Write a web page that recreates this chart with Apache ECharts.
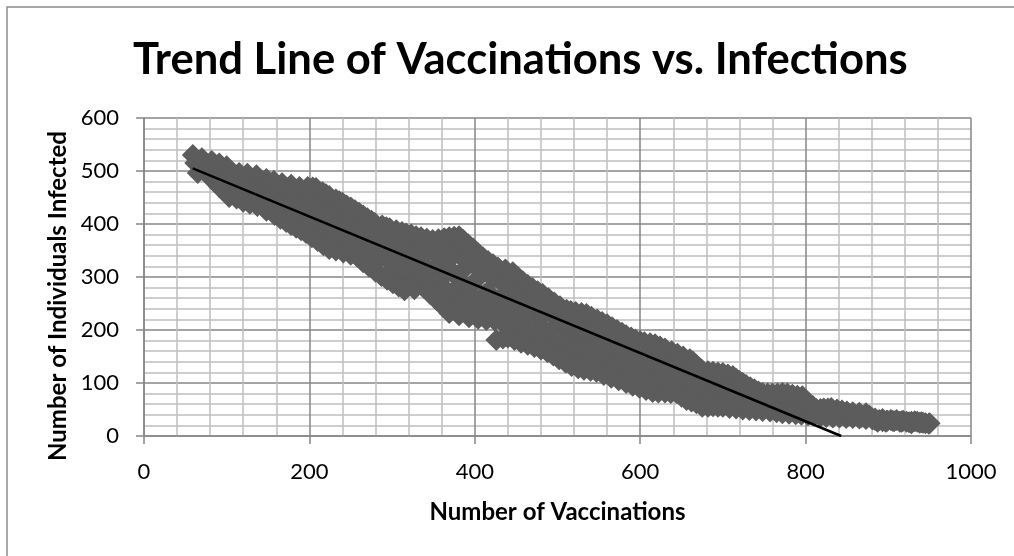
<!DOCTYPE html>
<html>
<head>
<meta charset="utf-8">
<title>Trend Line of Vaccinations vs. Infections</title>
<script src="https://cdn.jsdelivr.net/npm/echarts@6/dist/echarts.min.js"></script>
<style>
    html, body { margin: 0; padding: 0; background: #fff; }
    #chart { width: 1014px; height: 556px; }
</style>
</head>
<body>
<div id="chart"></div>
<script>
// points, upper edge of the cloud first, then lower edge, then the inside
var upperEdge = [[59,530],[70,524],[82,519],[91,514],[100,509],[115,496],[125,495],[136,492],[148,485],[157,481],[167,477],[178,474],[188,470],[198,470],[208,468],[216,460],[224,453],[232,446],[240,440],[250,431],[260,421],[270,411],[279,402],[288,397],[297,392],[312,385],[323,380],[335,375],[349,370],[369,375],[381,377],[392,362],[404,345],[416,330],[428,318],[446,309],[458,292],[470,279],[482,268],[496,252],[511,238],[522,234],[535,230],[548,220],[560,211],[572,200],[583,190],[594,182],[605,177],[618,173],[630,165],[645,155],[660,145],[668,134],[675,124],[688,121],[700,119],[712,113],[720,104],[728,96],[738,88],[748,81],[760,80],[772,81],[784,78],[796,75],[804,62],[813,51],[822,52],[831,53],[844,48],[857,45],[873,43],[880,34],[887,27],[899,29],[910,30],[922,27],[935,27],[949,23]];
var upperEdgeSteps = [[204,469],[220,456],[236,443],[245,435],[255,426],[265,416],[275,406],[293,394],[305,388],[317,382],[329,377],[342,372],[356,371],[363,373],[375,376],[386,370],[398,354],[410,337],[422,324],[437,314],[452,300],[464,285],[476,273],[489,260],[503,245],[516,236],[529,232],[541,225],[554,215],[566,205],[578,195],[589,186],[600,179],[612,175],[624,169],[638,160],[652,150],[664,140],[672,128],[682,122],[694,120],[706,116],[716,108],[724,100],[733,92],[743,84],[754,80],[766,80],[778,80],[790,76],[800,68],[809,56],[818,51],[827,52],[838,50],[850,46],[865,44],[877,38],[884,30],[893,28],[905,29],[916,28],[928,27],[942,25]];
var lowerEdge = [[65,496],[79,489],[91,470],[103,451],[120,442],[137,434],[158,417],[172,404],[184,393],[196,383],[210,368],[224,353],[241,346],[258,338],[272,320],[287,302],[301,288],[315,275],[327,277],[339,279],[354,256],[369,232],[381,228],[393,224],[404,221],[414,219],[426,181],[440,186],[456,176],[472,168],[488,158],[502,145],[517,132],[532,125],[547,121],[565,110],[583,100],[599,91],[615,83],[630,82],[644,81],[656,68],[668,62],[675,55],[688,56],[700,55],[716,52],[732,49],[748,47],[765,45],[780,42],[795,40],[810,38],[825,36],[841,35],[857,34],[873,32],[889,30],[907,28],[925,26],[950,24]];
var lowerEdgeSteps = [[112,448],[128,438],[148,425],[165,410],[178,398],[190,388],[203,375],[217,360],[232,350],[250,342],[265,328],[280,310],[294,295],[308,282],[346,268],[362,244],[434,184],[448,181],[464,172],[480,163],[495,152],[510,138],[525,128],[540,123],[556,115],[574,105],[591,95],[607,87],[622,82],[637,81],[650,74],[662,65],[682,55],[694,55],[708,53],[724,50],[740,48],[757,46],[772,43],[788,41],[803,39],[818,37],[833,35],[849,34],[865,33],[881,31],[898,29],[916,27],[938,25]];
var insideUpper = [[110,485],[128,474],[146,465],[164,455],[180,447],[198,440],[214,429],[230,418],[246,406],[262,393],[278,380],[294,368],[310,358],[326,350],[342,345],[358,342],[374,340],[390,328],[406,312],[422,296],[438,282],[454,268],[470,252],[486,238],[502,222],[518,208],[534,198],[550,188],[566,174],[582,162],[598,152],[614,143],[630,134],[646,124],[662,110],[678,100],[694,92],[710,84],[726,74],[742,66],[758,62],[774,60],[790,57],[806,46]];
var insideMiddle = [[150,448],[168,436],[186,424],[204,411],[220,398],[236,382],[252,368],[268,352],[284,338],[300,324],[316,314],[332,312],[348,306],[364,304],[380,296],[396,284],[412,268],[428,254],[444,240],[460,226],[476,210],[492,196],[508,180],[524,170],[540,160],[556,150],[572,138],[588,126],[604,118],[620,110],[636,104],[652,94],[668,84],[684,76],[700,72],[716,66]];
var insideLower = [[320,300],[336,292],[352,276],[368,266],[384,258],[400,246],[416,236],[432,226],[448,212],[464,198],[480,186],[496,174],[512,158],[528,146],[544,138],[560,130],[576,120],[592,110]];
var fillNearTop = [[120,473],[136,466],[152,461],[170,452],[186,450],[204,446],[220,434],[236,420],[252,404],[268,388],[284,374],[300,368],[316,362],[332,352],[348,350],[364,352],[380,352],[396,334],[412,312],[428,296],[444,288],[460,268],[476,252],[492,234],[508,218],[524,214],[540,204],[556,192],[572,178],[588,166],[604,156],[620,150],[636,140],[652,126],[668,112],[684,100],[700,98],[716,88],[732,70],[748,60],[764,60],[780,60],[796,54]];
var fillMiddle = [[128,458],[144,450],[160,442],[176,432],[192,420],[208,408],[224,400],[240,390],[256,376],[272,360],[288,346],[304,336],[320,330],[336,326],[352,318],[368,318],[384,310],[400,292],[416,272],[432,262],[448,250],[464,236],[480,222],[496,206],[512,194],[528,184],[544,176],[560,164],[576,150],[592,142],[608,132],[624,124],[640,118],[656,104],[672,92],[688,88],[704,86],[720,76],[736,66],[752,62],[768,58]];
var fillLower = [[168,428],[184,414],[200,400],[216,388],[232,370],[248,360],[264,346],[280,328],[296,308],[312,300],[328,296],[344,288],[360,284],[376,276],[392,268],[408,258],[424,244],[440,226],[456,212],[472,198],[488,182],[504,168],[520,158],[536,150],[552,140],[568,128],[584,118],[600,108],[616,100],[632,98],[648,90],[664,78],[680,70],[696,68],[712,62],[728,60],[744,58],[760,56],[776,54],[792,52],[808,50]];
var fillNearBottom = [[376,250],[392,242],[408,236],[424,218],[440,204],[456,192],[472,182],[488,170],[504,156],[520,146],[536,136],[552,128],[568,118],[584,108],[600,98],[616,92]];
var headPoints = [[62,515],[66,510],[74,508],[86,500],[94,498],[98,480],[106,490],[112,470],[118,458],[126,480],[130,450],[142,476],[146,440],[152,470],[156,432],[162,465],[168,445],[174,460],[178,415],[182,458],[190,400],[196,455],[200,395],[206,385],[212,450],[218,372],[226,368]];
var tailPoints = [[640,145],[654,135],[668,122],[684,112],[692,108],[704,108],[726,85],[742,75],[754,54],[756,70],[770,68],[785,62],[790,66],[800,60],[800,55],[806,52],[816,42],[818,45],[826,44],[836,42],[838,46],[846,40],[850,43],[852,38],[862,38],[864,41],[868,36],[878,37],[884,33],[893,32],[897,27],[903,30],[914,27],[918,29],[928,24],[932,28],[940,26],[945,24]];
var trendLine = [[59,505],[843,0]];

var xTicks = {min: 0, max: 1000, step: 200, minorParts: 5};
var yTicks = {min: 0, max: 600, step: 100, minorParts: 5};

var axisColor = '#868686';
var minorColor = '#bfbfbf';
var markColor = '#5c5c5c';
var fontName = 'Lato, Carlito, sans-serif';

function makeAxis(ticks, name, nameGap, namePadding) {
    return {
        type: 'value',
        min: ticks.min,
        max: ticks.max,
        interval: ticks.step,
        name: name,
        nameLocation: 'middle',
        nameGap: nameGap,
        nameTextStyle: {color: '#000', fontFamily: fontName, fontWeight: 'bold', fontSize: 24, padding: namePadding},
        axisLine: {show: true, onZero: false, lineStyle: {color: axisColor, width: 1.5}},
        axisTick: {show: true, length: 8, lineStyle: {color: axisColor, width: 1.5}},
        axisLabel: {
            color: '#000',
            fontFamily: fontName,
            fontSize: 22,
            margin: 25,
            formatter: function (value) {
                return String(value);
            }
        },
        splitLine: {show: true, lineStyle: {color: axisColor, width: 1.5}},
        minorTick: {show: false, splitNumber: ticks.minorParts},
        minorSplitLine: {show: true, lineStyle: {color: minorColor, width: 1.5}}
    };
}

function makeCloud(points) {
    return {
        type: 'scatter',
        data: points,
        symbol: 'diamond',
        symbolSize: 22,
        itemStyle: {color: markColor, opacity: 1},
        silent: true
    };
}

var chart = echarts.init(document.getElementById('chart'));
chart.setOption({
    animation: false,
    backgroundColor: '#fff',
    title: {
        text: 'Trend Line of Vaccinations vs. Infections',
        left: 128,
        top: 33,
        textStyle: {color: '#000', fontFamily: fontName, fontWeight: 'bold', fontSize: 43.6}
    },
    grid: {left: 144, top: 118, width: 827, height: 318, containLabel: false},
    xAxis: makeAxis(xTicks, 'Number of Vaccinations', 64, [0, 0, 0, 0]),
    yAxis: makeAxis(yTicks, 'Number of Individuals Infected', 74, [0, 38, 0, 0]),
    series: [
        makeCloud(fillNearBottom),
        makeCloud(fillLower),
        makeCloud(fillMiddle),
        makeCloud(fillNearTop),
        makeCloud(insideLower),
        makeCloud(insideMiddle),
        makeCloud(insideUpper),
        makeCloud(headPoints),
        makeCloud(tailPoints),
        makeCloud(lowerEdgeSteps),
        makeCloud(upperEdgeSteps),
        makeCloud(lowerEdge),
        makeCloud(upperEdge),
        {
            type: 'line',
            data: trendLine,
            symbol: 'none',
            z: 5,
            lineStyle: {color: '#000', width: 2.5},
            silent: true
        }
    ],
    graphic: [{
        type: 'polyline',
        shape: {points: [[7, 556], [7, 7], [1014, 7]]},
        style: {fill: 'none', stroke: '#8c8c8c', lineWidth: 1.5},
        silent: true
    }]
});
</script>
</body>
</html>
